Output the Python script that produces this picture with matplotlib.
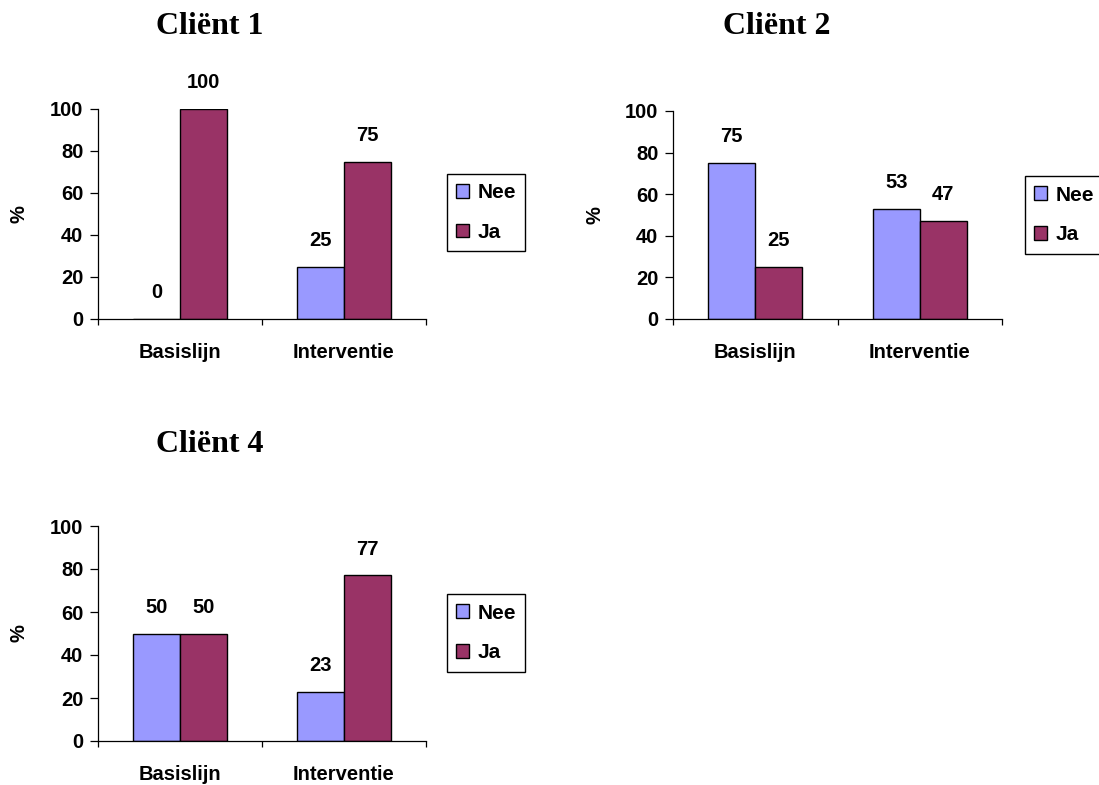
import numpy as np
import matplotlib
matplotlib.use('Agg')
import matplotlib.pyplot as plt

# percentages per client: Nee / Ja for Basislijn and Interventie
categories = ['Basislijn', 'Interventie']
series = ['Nee', 'Ja']
clients = ['Cliënt 1', 'Cliënt 2', 'Cliënt 4']
nee_values = [[0, 25], [75, 53], [50, 23]]
ja_values = [[100, 75], [25, 47], [50, 77]]
yticks = [0, 20, 40, 60, 80, 100]

NEE_COLOR = '#9999FF'
JA_COLOR = '#993366'

W, H = 1099, 785
DPI = 100
FS = 14.5

plt.rcParams['font.family'] = ['Liberation Sans', 'DejaVu Sans']
plt.rcParams['font.weight'] = 'bold'

fig = plt.figure(figsize=(W / DPI, H / DPI), dpi=DPI)


def px_axes(left, top, right, bottom):
    return fig.add_axes([left / W, 1 - bottom / H, (right - left) / W, (bottom - top) / H])


# plot box (px), title center, "%" label x, legend left / center-y
layout = [
    ((98, 109, 426, 319), (210, 26), 19, (447, 212.5)),
    ((673, 111, 1002, 319), (777, 26), 595, (1025, 215)),
    ((98, 526, 426, 741), (210, 444), 19, (447, 633)),
]

bar_w = 0.285
x = np.arange(len(categories)) + 0.5

for i, name in enumerate(clients):
    box, tpos, ylab_x, lpos = layout[i]
    ax = px_axes(*box)
    nee = nee_values[i]
    ja = ja_values[i]
    b1 = ax.bar(x - bar_w / 2, nee, bar_w, color=NEE_COLOR, edgecolor='black',
                linewidth=1.0, label=series[0])
    b2 = ax.bar(x + bar_w / 2, ja, bar_w, color=JA_COLOR, edgecolor='black',
                linewidth=1.0, label=series[1])
    for bars, vals in ((b1, nee), (b2, ja)):
        for rect, v in zip(bars, vals):
            ax.annotate('%d' % v, (rect.get_x() + rect.get_width() / 2, v),
                        xytext=(0, 19), textcoords='offset points',
                        ha='center', va='center', fontsize=FS, fontweight='bold',
                        annotation_clip=False)

    ax.set_xlim(0, 2)
    ax.set_ylim(0, 100)
    ax.set_yticks(yticks)
    ax.set_yticklabels([str(t) for t in yticks], fontsize=FS, fontweight='bold')
    ax.set_xticks([0, 1, 2])
    ax.set_xticklabels(['', '', ''])
    ax.set_xticks(x, minor=True)
    ax.set_xticklabels(categories, minor=True, fontsize=FS, fontweight='bold')
    ax.tick_params(axis='x', which='minor', length=0, pad=17)
    ax.tick_params(axis='x', which='major', direction='out', length=4.5, width=0.9)
    ax.tick_params(axis='y', which='major', direction='out', length=6, width=0.9, pad=4.5)
    for s in ('top', 'right'):
        ax.spines[s].set_visible(False)
    for s in ('left', 'bottom'):
        ax.spines[s].set_linewidth(0.9)

    ymid = (box[1] + box[3]) / 2
    fig.text(ylab_x / W, 1 - ymid / H, '%', rotation=90, ha='center', va='center',
             fontsize=FS, fontweight='bold')

    fig.text(tpos[0] / W, 1 - tpos[1] / H, name, ha='center', va='center',
             fontsize=23, fontweight='bold', family=['Liberation Serif'])

    fig.legend(handles=[b1, b2], labels=series, loc='center left',
               bbox_to_anchor=(lpos[0] / W, 1 - lpos[1] / H),
               prop={'size': 15, 'weight': 'bold'}, frameon=True, fancybox=False,
               edgecolor='black', framealpha=1, handlelength=0.63, handleheight=0.63,
               handletextpad=0.38, borderpad=0.44, labelspacing=1.0,
               borderaxespad=0)

fig.savefig('out.png', dpi=DPI)
